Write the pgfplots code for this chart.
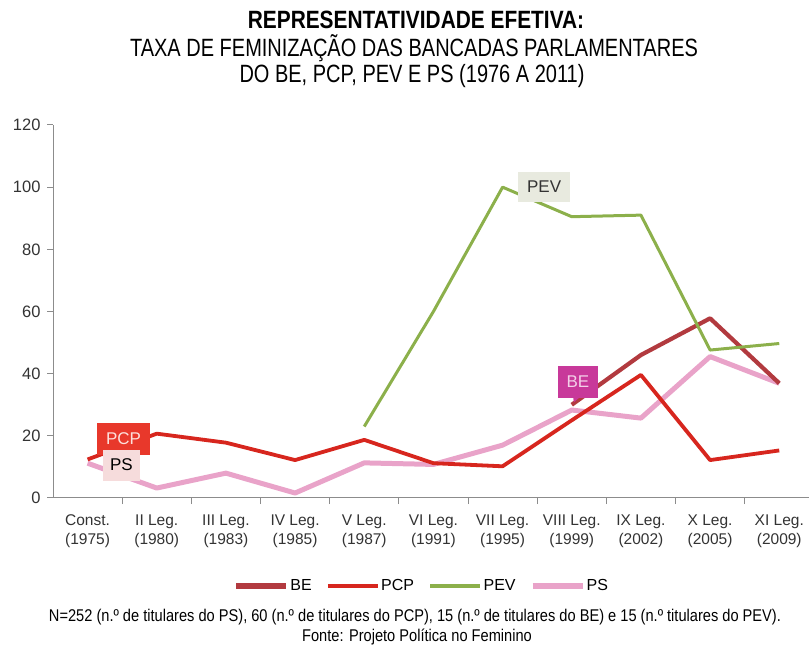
\documentclass[border=0pt]{standalone}
\usepackage{fontspec}
\setmainfont{Liberation Sans}
\newfontfamily\condf{Liberation Sans}[FakeStretch=0.80]
\newfontfamily\condb{Liberation Sans Bold}[FakeStretch=0.835]
\newfontfamily\condn{Liberation Sans}[FakeStretch=0.86]
\usepackage{pgfplots}
\pgfplotsset{compat=1.18}
\definecolor{cBE}{HTML}{B23A3F}
\definecolor{cPCP}{HTML}{D7261E}
\definecolor{cPEV}{HTML}{8CB04B}
\definecolor{cPS}{HTML}{E9A3C9}
\definecolor{axisgray}{HTML}{8C8C8C}
\definecolor{tickgray}{HTML}{333333}
\definecolor{pcpbox}{HTML}{E8382B}
\definecolor{pcptext}{HTML}{FCE0DC}
\definecolor{psbox}{HTML}{F6DCDC}
\definecolor{pevbox}{HTML}{E8EADF}
\definecolor{bebox}{HTML}{C8399A}
\definecolor{betext}{HTML}{F3D0E8}
\begin{document}
\begin{tikzpicture}
\useasboundingbox (0pt,0pt) rectangle (811pt,653pt);
\node[font=\condb\fontsize{25}{28}\selectfont] at (416pt,633pt) {REPRESENTATIVIDADE EFETIVA:};
\node[font=\condf\fontsize{25}{28}\selectfont] at (414pt,605pt) {TAXA DE FEMINIZAÇÃO DAS BANCADAS PARLAMENTARES};
\node[font=\condf\fontsize{25}{28}\selectfont] at (412pt,577pt) {DO BE, PCP, PEV E PS (1976 A 2011)};
\begin{axis}[
  at={(53pt,155pt)}, anchor=south west, scale only axis,
  width=756pt, height=373pt,
  xmin=-0.5, xmax=10.43, ymin=0, ymax=120,
  clip=false,
  axis x line=bottom, axis y line=left,
  axis line style={-, draw=axisgray, line width=1pt},
  tick align=outside,
  xtick={0,...,10},
  xticklabels={{Const.\\(1975)},{II Leg.\\(1980)},{III Leg.\\(1983)},{IV Leg.\\(1985)},{V Leg.\\(1987)},{VI Leg.\\(1991)},{VII Leg.\\(1995)},{VIII Leg.\\(1999)},{IX Leg.\\(2002)},{X Leg.\\(2005)},{XI Leg.\\(2009)}},
  major x tick style={draw=none},
  minor xtick={0.5,1.5,...,9.5},
  minor tick length=6pt,
  minor x tick style={draw=axisgray, line width=1pt},
  ytick={0,20,...,120},
  major tick length=6pt,
  y tick style={draw=axisgray, line width=1pt},
  xticklabel style={align=center, font=\fontsize{15.5}{19}\selectfont, text=tickgray, yshift=-7pt},
  yticklabel style={font=\fontsize{16.5}{19}\selectfont, text=tickgray, xshift=-3pt},
  /pgf/number format/assume math mode=true,
  legend style={at={(0.487,-0.236)}, anchor=center, legend columns=4, draw=none, fill=none,
    font=\fontsize{16}{19}\selectfont, nodes={inner xsep=1pt},
    /tikz/every even column/.append style={column sep=13pt}},
  legend image code/.code={\draw[#1] (0pt,0pt) -- (50pt,0pt);},
]
\addlegendimage{cBE, line width=6pt}\addlegendentry{BE}
\addlegendimage{cPCP, line width=4.5pt}\addlegendentry{PCP}
\addlegendimage{cPEV, line width=4.5pt}\addlegendentry{PEV}
\addlegendimage{cPS, line width=6pt}\addlegendentry{PS}

\addplot[forget plot, cPS, line width=5pt, line join=round] coordinates {
(0,11.2) (1,3.2) (2,8) (3,1.6) (4,11.3) (5,10.8) (6,17) (7,28.3) (8,25.7) (9,45.5) (10,36.9)};
\addplot[forget plot, cPCP, line width=3.8pt, line join=round] coordinates {
(0,12.4) (1,20.7) (2,17.8) (3,12.2) (4,18.7) (5,11.2) (6,10.2) (7,25) (8,39.6) (9,12.2) (10,15.3)};
\addplot[forget plot, cBE, line width=4.2pt, line join=round] coordinates {
(7,30) (8,46) (9,57.8) (10,36.9)};
\addplot[forget plot, cPEV, line width=3pt, line join=round] coordinates {
(4,23) (5,60) (6,100) (7,90.5) (8,91) (9,47.6) (10,49.7)};

\node[fill=pcpbox, text=pcptext, font=\fontsize{17}{20}\selectfont, minimum width=53pt, minimum height=32pt, inner sep=0pt] at (axis cs:0.519,19.0) {PCP};
\node[fill=psbox, text=black, font=\fontsize{17}{20}\selectfont, minimum width=37pt, minimum height=31pt, inner sep=0pt] at (axis cs:0.49,10.6) {PS};
\node[fill=pevbox, text=tickgray, font=\fontsize{17}{20}\selectfont, minimum width=52pt, minimum height=30pt, inner sep=0pt] at (axis cs:6.60,100.1) {PEV};
\fill[bebox] (axis cs:7.02,32.5) -- (axis cs:7.12,32.5) -- (axis cs:7.03,30.8) -- cycle;
\node[fill=bebox, text=betext, font=\fontsize{17}{20}\selectfont, minimum width=40pt, minimum height=32pt, inner sep=0pt] at (axis cs:7.09,37.3) {BE};
\end{axis}
\node[font=\condn\fontsize{17}{19}\selectfont, text=black] at (415pt,36pt) {N=252 (n.º de titulares do PS), 60 (n.º de titulares do PCP), 15 (n.º de titulares do BE) e 15 (n.º titulares do PEV).};
\node[font=\condn\fontsize{17}{19}\selectfont, text=black] at (417pt,16pt) {Fonte: Projeto Política no Feminino};
\end{tikzpicture}
\end{document}
